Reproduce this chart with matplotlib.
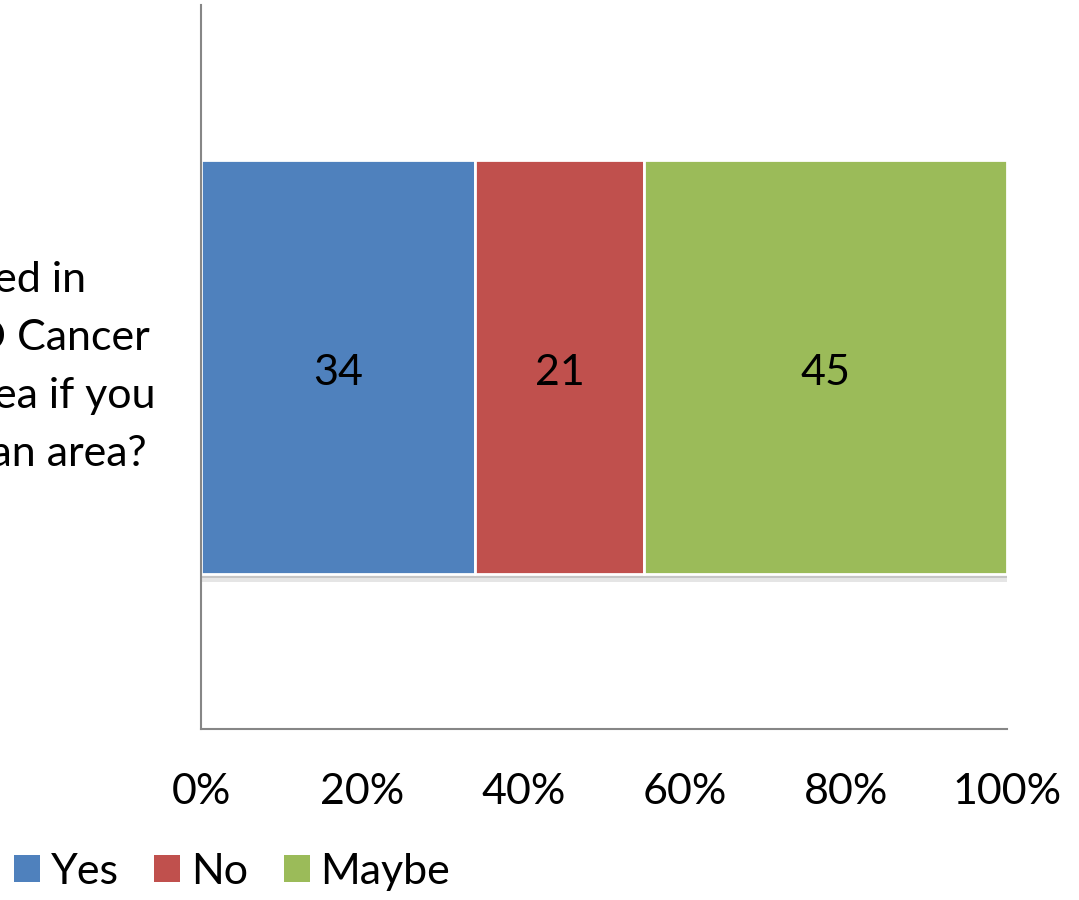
import matplotlib
matplotlib.use("Agg")
import matplotlib.pyplot as plt
import matplotlib.patheffects as pe
from matplotlib.patches import Rectangle
from matplotlib.ticker import PercentFormatter

# Survey responses (percent of respondents)
question = ("Would you be as interested in\n"
            "participating in an HPV/OPD Cancer\n"
            "screening program in your area if you\n"
            "were living in a rural/suburban area?")
series = ["Yes", "No", "Maybe"]
values = [34, 21, 45]
colors = ["#4F81BD", "#C0504D", "#9BBB59"]
xticks = [0, 20, 40, 60, 80, 100]

plt.rcParams["font.family"] = ["Lato", "DejaVu Sans"]
FS = 31

fig = plt.figure(figsize=(10.79, 9.0), dpi=100)
ax = fig.add_axes([0.1863, 0.19, 0.747, 0.8044])

left = 0
shadow = [pe.SimplePatchShadow(offset=(1, -6), shadow_rgbFace="#9a9a9a", alpha=0.25),
          pe.SimplePatchShadow(offset=(1, -3), shadow_rgbFace="#8a8a8a", alpha=0.35),
          pe.Normal()]
for name, v, c in zip(series, values, colors):
    bar = ax.barh(0, v, left=left, height=0.572, color=c, edgecolor="white",
                  linewidth=2, label=name)
    for p in bar:
        p.set_path_effects(shadow)
    ax.text(left + v / 2, -0.008, f"{v}", ha="center", va="center", fontsize=FS, color="black")
    left += v

ax.set_xlim(0, 100)
ax.set_ylim(-0.5, 0.5)
ax.set_xticks(xticks)
ax.xaxis.set_major_formatter(PercentFormatter(decimals=0))
ax.set_yticks([])
ax.tick_params(axis="x", length=0, pad=32, labelsize=FS)

# Category label, wrapped and centred to the left of the bar
ax.annotate(question, xy=(0, 0), xycoords=("axes fraction", "data"),
            xytext=(-46, 0), textcoords="offset pixels", ha="right", va="center",
            multialignment="center", linespacing=1.64, fontsize=FS,
            annotation_clip=False)

for s in ["top", "right"]:
    ax.spines[s].set_visible(False)
for s in ["left", "bottom"]:
    ax.spines[s].set_color("#868686")
    ax.spines[s].set_linewidth(1.5)

handles = [Rectangle((0, 0), 1, 1, facecolor=c, edgecolor="none") for c in colors]
fig.legend(handles, series, loc="center left", bbox_to_anchor=(0.013, 1 - 872 / 900),
           ncol=3, frameon=False, fontsize=FS, handlelength=0.6, handleheight=0.6,
           handletextpad=0.25, columnspacing=0.83, borderpad=0, borderaxespad=0)

fig.savefig("out.png", dpi=100, facecolor="white")
